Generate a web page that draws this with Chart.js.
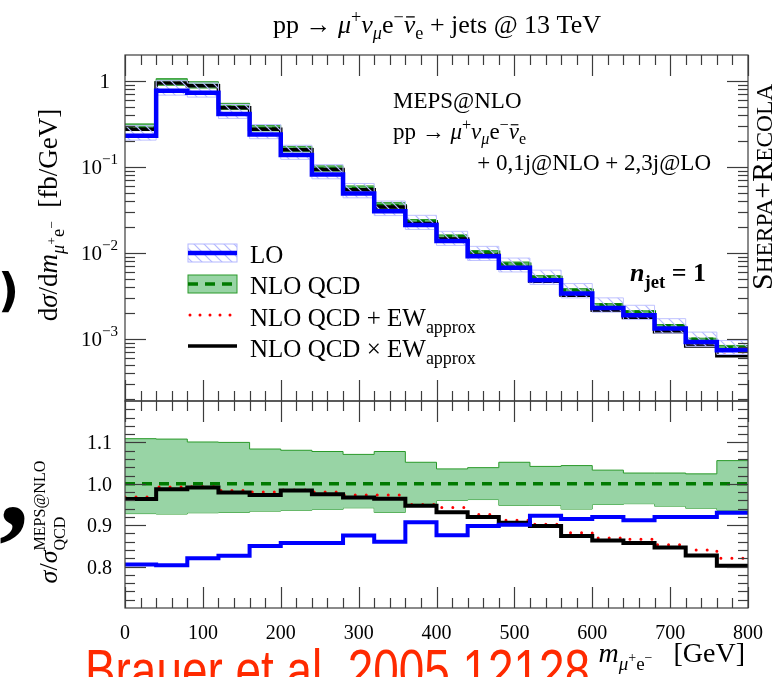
<!DOCTYPE html>
<html>
<head>
<meta charset="UTF-8">
<title>m(mu+ e-) MEPS@NLO</title>
<script src="https://cdn.jsdelivr.net/npm/chart.js"></script>
<style>
  body { margin: 0; background: #fff; }
  #wrap { position: relative; width: 774px; height: 677px; overflow: hidden; }
  #wrap canvas { position: absolute; left: 0; top: 0; }
</style>
</head>
<body>
<div id="wrap">
  <canvas id="mainChart" width="774" height="677"></canvas>
  <canvas id="ratioChart" width="774" height="677"></canvas>
</div>
<script>
// bin edges of m(mu+ e-) [GeV]
const binEdges = [0, 40, 80, 120, 160, 200, 240, 280, 320, 360, 400, 440, 480, 520, 560, 600, 640, 680, 720, 760, 800];

// upper panel: dsigma/dm [fb/GeV], one value per bin
const loXS       = [0.229, 0.765, 0.725, 0.41, 0.238, 0.137, 0.0815, 0.049, 0.0305, 0.021, 0.0137, 0.00916, 0.0067, 0.00482, 0.00337, 0.00229, 0.00189, 0.00132, 0.00092, 0.00074];
const loXSUp     = [0.30, 1.0, 0.94, 0.53, 0.31, 0.178, 0.106, 0.064, 0.040, 0.0273, 0.0178, 0.0119, 0.0087, 0.0063, 0.0044, 0.003, 0.00246, 0.00172, 0.0012, 0.00096];
const loXSDown   = [0.204, 0.68, 0.645, 0.365, 0.212, 0.122, 0.0725, 0.0436, 0.0271, 0.0187, 0.0122, 0.00815, 0.006, 0.0043, 0.003, 0.00204, 0.00168, 0.00117, 0.00082, 0.00066];
const nloXS      = [0.284, 0.953, 0.884, 0.496, 0.28, 0.16, 0.0951, 0.056, 0.0355, 0.0232, 0.0156, 0.0102, 0.00744, 0.00522, 0.00368, 0.00249, 0.00207, 0.00143, 0.001, 0.000796];
const nloXSUp    = [0.315, 1.056, 0.973, 0.546, 0.3035, 0.173, 0.1025, 0.06, 0.0383, 0.0244, 0.01616, 0.0106, 0.00783, 0.00544, 0.00384, 0.00257, 0.00212, 0.00147, 0.00102, 0.00084];
const nloXSDown  = [0.2636, 0.8834, 0.822, 0.4618, 0.2615, 0.1498, 0.0892, 0.0528, 0.033, 0.0221, 0.01498, 0.00981, 0.00705, 0.00495, 0.00346, 0.00237, 0.00197, 0.00135, 0.00094, 0.000745];
const nloPlusEW  = [0.2749, 0.9454, 0.8778, 0.488, 0.2744, 0.1576, 0.0932, 0.0545, 0.0345, 0.02204, 0.01471, 0.00945, 0.00679, 0.00471, 0.00325, 0.00216, 0.00179, 0.00122, 0.00084, 0.000653];
const nloTimesEW = [0.2735, 0.9406, 0.876, 0.4856, 0.2724, 0.1574, 0.0927, 0.0542, 0.0342, 0.02197, 0.01452, 0.00938, 0.00674, 0.00469, 0.00322, 0.00215, 0.00177, 0.00121, 0.000827, 0.000638];

// lower panel: ratio to MEPS@NLO QCD
const ratioLO      = [0.805, 0.803, 0.82, 0.826, 0.85, 0.857, 0.857, 0.875, 0.86, 0.907, 0.876, 0.898, 0.901, 0.923, 0.915, 0.92, 0.912, 0.92, 0.92, 0.93];
const ratioNLO     = [1, 1, 1, 1, 1, 1, 1, 1, 1, 1, 1, 1, 1, 1, 1, 1, 1, 1, 1, 1];
const ratioNLOUp   = [1.109, 1.108, 1.101, 1.1, 1.084, 1.081, 1.078, 1.071, 1.078, 1.052, 1.036, 1.039, 1.052, 1.042, 1.044, 1.033, 1.026, 1.026, 1.024, 1.056];
const ratioNLODown = [0.928, 0.927, 0.93, 0.931, 0.934, 0.936, 0.938, 0.942, 0.931, 0.952, 0.96, 0.962, 0.948, 0.948, 0.939, 0.95, 0.952, 0.946, 0.941, 0.936];
const ratioPlusEW  = [0.968, 0.992, 0.993, 0.984, 0.98, 0.985, 0.98, 0.973, 0.973, 0.95, 0.943, 0.926, 0.912, 0.902, 0.882, 0.869, 0.866, 0.853, 0.84, 0.82];
const ratioTimesEW = [0.963, 0.987, 0.991, 0.979, 0.973, 0.984, 0.975, 0.967, 0.964, 0.947, 0.931, 0.92, 0.906, 0.898, 0.874, 0.863, 0.857, 0.846, 0.827, 0.802];

// tick labels
const xTicks = [0, 100, 200, 300, 400, 500, 600, 700, 800];
const logTickExps = [0, -1, -2, -3];
const ratioTicks = [0.8, 0.9, 1.0, 1.1];

const SERIF = '"Liberation Serif", "DejaVu Serif", serif';
const GREEN_BAND = 'rgb(152, 212, 165)';
const GREEN_EDGE = '#2a9a2a';

function steps(vals) {
  return binEdges.map((x, i) => ({ x: x, y: vals[Math.min(i, vals.length - 1)] }));
}

function histo(vals, opts) {
  return Object.assign({
    data: steps(vals),
    stepped: 'before',
    pointRadius: 0,
    pointHoverRadius: 0,
    fill: false,
    borderJoinStyle: 'miter',
    tension: 0
  }, opts);
}

function makeHatch() {
  const c = document.createElement('canvas');
  c.width = 10; c.height = 10;
  const g = c.getContext('2d');
  g.strokeStyle = '#b3b7ff';
  g.lineWidth = 1.2;
  g.beginPath();
  g.moveTo(-1, -1); g.lineTo(11, 11);
  g.moveTo(-1, 9); g.lineTo(1, 11);
  g.moveTo(9, -1); g.lineTo(11, 1);
  g.stroke();
  return g.createPattern(c, 'repeat');
}
const hatch = makeHatch();

// text with sub/superscripts: parts = [{t, i, b, sc, dy, hold, bar}]
function rich(ctx, parts, x, y, size, align, family) {
  family = family || SERIF;
  const fontOf = p => (p.i ? 'italic ' : '') + (p.b ? 'bold ' : '') + (size * (p.sc || 1)).toFixed(1) + 'px ' + family;
  let w = 0, held = 0;
  parts.forEach(p => {
    ctx.font = fontOf(p);
    p.w = ctx.measureText(p.t).width;
    if (p.hold) { held = p.w; return; }
    w += Math.max(p.w, held); held = 0;
  });
  let cx = align === 'center' ? x - w / 2 : align === 'right' ? x - w : x;
  ctx.textAlign = 'left';
  ctx.textBaseline = 'alphabetic';
  held = 0;
  parts.forEach(p => {
    ctx.font = fontOf(p);
    const ty = y + (p.dy || 0) * size;
    ctx.fillText(p.t, cx, ty);
    if (p.bar) {
      const s = size * (p.sc || 1);
      ctx.save();
      ctx.lineWidth = Math.max(1, s * 0.05);
      ctx.strokeStyle = ctx.fillStyle;
      ctx.beginPath();
      ctx.moveTo(cx + p.w * 0.2, ty - s * 0.62);
      ctx.lineTo(cx + p.w * 0.95, ty - s * 0.62);
      ctx.stroke();
      ctx.restore();
    }
    if (p.hold) { held = p.w; return; }
    cx += Math.max(p.w, held); held = 0;
  });
}

function processParts() {
  return [
    { t: 'pp \u2192 ' }, { t: '\u03bc', i: 1 }, { t: '+', sc: 0.7, dy: -0.4 },
    { t: '\u03bd', i: 1 }, { t: '\u03bc', i: 1, sc: 0.7, dy: 0.22 },
    { t: 'e' }, { t: '\u2212', sc: 0.7, dy: -0.4 },
    { t: '\u03bd', i: 1, bar: 1 }, { t: 'e', sc: 0.7, dy: 0.22 }
  ];
}

function line(ctx, x1, y1, x2, y2) {
  ctx.beginPath(); ctx.moveTo(x1, y1); ctx.lineTo(x2, y2); ctx.stroke();
}

// frame with inward ticks on all four sides
function drawFrame(chart, yTickList) {
  const ctx = chart.ctx, a = chart.chartArea, xs = chart.scales.x, ys = chart.scales.y;
  ctx.save();
  ctx.strokeStyle = '#3c3c3c';
  ctx.lineWidth = 1.2;
  for (let v = 0; v <= 800; v += 20) {
    const px = Math.round(xs.getPixelForValue(v)) + 0.5, len = v % 100 === 0 ? 21 : 10;
    line(ctx, px, a.top, px, a.top + len);
    line(ctx, px, a.bottom, px, a.bottom - len);
  }
  yTickList.forEach(t => {
    const py = Math.round(ys.getPixelForValue(t.v)) + 0.5, len = t.major ? 21 : 10;
    line(ctx, a.left, py, a.left + len, py);
    line(ctx, a.right, py, a.right - len, py);
  });
  ctx.strokeRect(a.left, a.top, a.right - a.left, a.bottom - a.top);
  ctx.restore();
}

const logTickList = [];
for (let k = -4; k <= 0; k++) {
  for (let m = 1; m <= 9; m++) {
    const v = m * Math.pow(10, k);
    if (v > 1.9e-4 && v < 1.99) logTickList.push({ v: v, major: m === 1 });
  }
}
const ratioTickList = [];
for (let i = 36; i <= 59; i++) ratioTickList.push({ v: i / 50, major: i % 5 === 0 });

const mainDecor = {
  id: 'mainDecor',
  afterDraw(chart) {
    const ctx = chart.ctx, ys = chart.scales.y;
    drawFrame(chart, logTickList);
    ctx.save();
    ctx.fillStyle = '#000';

    // title
    rich(ctx, processParts().concat([{ t: ' + jets @ 13 TeV' }]), 437, 33, 26, 'center');

    // y tick labels
    logTickExps.forEach(k => {
      const py = ys.getPixelForValue(Math.pow(10, k)) + 7;
      if (k === 0) rich(ctx, [{ t: '1' }], 110, py, 21, 'right');
      else rich(ctx, [{ t: '10' }, { t: '\u2212' + (-k), sc: 0.72, dy: -0.45 }], 118, py, 21, 'right');
    });

    // y title
    ctx.save();
    ctx.translate(57, 215);
    ctx.rotate(-Math.PI / 2);
    rich(ctx, [
      { t: 'd' }, { t: '\u03c3', i: 1 }, { t: '/d' }, { t: 'm', i: 1 },
      { t: '\u03bc', i: 1, sc: 0.68, dy: 0.25 }, { t: '+', sc: 0.5, dy: -0.02 },
      { t: 'e', sc: 0.68, dy: 0.25 }, { t: '\u2212', sc: 0.5, dy: -0.02 },
      { t: '  [fb/GeV]' }
    ], 0, 0, 27, 'center');
    ctx.restore();

    // generator label
    ctx.save();
    ctx.translate(772, 290);
    ctx.rotate(-Math.PI / 2);
    rich(ctx, [
      { t: 'S' }, { t: 'HERPA', sc: 0.78 }, { t: '+' }, { t: 'R' }, { t: 'ECOLA', sc: 0.78 }
    ], 0, 0, 30, 'left');
    ctx.restore();

    // process annotation
    rich(ctx, [{ t: 'MEPS@NLO' }], 393, 108, 23, 'left');
    rich(ctx, processParts(), 393, 139, 23, 'left');
    rich(ctx, [{ t: '+ 0,1j@NLO + 2,3j@LO' }], 711, 170, 23, 'right');
    rich(ctx, [{ t: 'n', i: 1, b: 1 }, { t: 'jet', b: 1, sc: 0.72, dy: 0.25 }, { t: ' = 1', b: 1 }], 630, 281, 26, 'left');

    // legend
    const lx0 = 188, lw = 49, tx = 250;
    ctx.fillStyle = hatch;
    ctx.fillRect(lx0, 244, lw, 18);
    ctx.strokeStyle = '#b3b7ff'; ctx.lineWidth = 1;
    ctx.strokeRect(lx0, 244, lw, 18);
    ctx.strokeStyle = '#0000ff'; ctx.lineWidth = 4.5;
    line(ctx, lx0, 253, lx0 + lw, 253);

    ctx.fillStyle = GREEN_BAND;
    ctx.fillRect(lx0, 275, lw, 18);
    ctx.strokeStyle = GREEN_EDGE; ctx.lineWidth = 1;
    ctx.strokeRect(lx0, 275, lw, 18);
    ctx.strokeStyle = '#007a00'; ctx.lineWidth = 3.5; ctx.setLineDash([10, 7]);
    line(ctx, lx0, 284, lx0 + lw, 284);

    ctx.strokeStyle = '#ff0000'; ctx.lineWidth = 3; ctx.lineCap = 'round'; ctx.setLineDash([0, 10]);
    line(ctx, lx0 + 2, 315, lx0 + lw, 315);
    ctx.setLineDash([]); ctx.lineCap = 'butt';

    ctx.strokeStyle = '#000'; ctx.lineWidth = 3.5;
    line(ctx, lx0, 346, lx0 + lw, 346);

    ctx.fillStyle = '#000';
    const sub = { t: 'approx', sc: 0.72, dy: 0.28 };
    rich(ctx, [{ t: 'LO' }], tx, 263, 25, 'left');
    rich(ctx, [{ t: 'NLO QCD' }], tx, 294, 25, 'left');
    rich(ctx, [{ t: 'NLO QCD + EW' }, sub], tx, 326, 25, 'left');
    rich(ctx, [{ t: 'NLO QCD \u00d7 EW' }, sub], tx, 357, 25, 'left');

    // fragments of surrounding slide text at the left edge
    ctx.font = 'bold 46px "DejaVu Sans", sans-serif';
    ctx.fillText(')', -2, 306);
    ctx.font = 'bold 120px ' + SERIF;
    ctx.fillText(',', -1, 525);
    ctx.restore();
  }
};

const ratioDecor = {
  id: 'ratioDecor',
  afterDraw(chart) {
    const ctx = chart.ctx, ys = chart.scales.y, xs = chart.scales.x;
    drawFrame(chart, ratioTickList);
    ctx.save();
    ctx.fillStyle = '#000';
    ratioTicks.forEach(v => {
      rich(ctx, [{ t: v.toFixed(1) }], 112, ys.getPixelForValue(v) + 7, 20, 'right');
    });
    xTicks.forEach(v => {
      rich(ctx, [{ t: String(v) }], xs.getPixelForValue(v), 639, 20, 'center');
    });

    // ratio y title
    ctx.save();
    ctx.translate(57, 522);
    ctx.rotate(-Math.PI / 2);
    rich(ctx, [
      { t: '\u03c3', i: 1 }, { t: '/' }, { t: '\u03c3', i: 1 },
      { t: 'MEPS@NLO', sc: 0.62, dy: -0.45, hold: 1 }, { t: 'QCD', sc: 0.62, dy: 0.3 }
    ], 0, 0, 26, 'center');
    ctx.restore();

    // red reference note, cut by the bottom edge
    ctx.fillStyle = '#ff2a00';
    ctx.font = '58px "Liberation Sans Narrow", "Liberation Sans", sans-serif';
    const note = 'Brauer et al. 2005.12128';
    const nw = ctx.measureText(note).width;
    ctx.save();
    ctx.translate(85, 690);
    ctx.scale(505 / nw, 1);
    ctx.textAlign = 'left';
    ctx.fillText(note, 0, 0);
    ctx.restore();

    // x title
    ctx.fillStyle = '#000';
    rich(ctx, [
      { t: 'm', i: 1 }, { t: '\u03bc', i: 1, sc: 0.68, dy: 0.28 }, { t: '+', sc: 0.5, dy: 0.0 },
      { t: 'e', sc: 0.68, dy: 0.28 }, { t: '\u2212', sc: 0.5, dy: 0.0 }, { t: '   [GeV]' }
    ], 745, 662, 28, 'right');
    ctx.restore();
  }
};

const baseOptions = (ymin, ymax, ytype, padding) => ({
  responsive: false,
  animation: false,
  events: [],
  layout: { padding: padding },
  plugins: { legend: { display: false }, tooltip: { enabled: false }, title: { display: false } },
  scales: {
    x: { type: 'linear', min: 0, max: 800, display: false },
    y: { type: ytype, min: ymin, max: ymax, display: false }
  }
});

new Chart(document.getElementById('mainChart').getContext('2d'), {
  type: 'line',
  data: {
    datasets: [
      histo(nloXSDown, { label: 'NLO QCD down', borderColor: GREEN_EDGE, borderWidth: 1, order: 7 }),
      histo(nloXSUp, { label: 'NLO QCD up', borderColor: GREEN_EDGE, borderWidth: 1, fill: '-1', backgroundColor: 'rgb(95, 185, 105)', order: 6 }),
      histo(nloXS, { label: 'NLO QCD', borderColor: '#007a00', borderWidth: 3, borderDash: [8, 6], order: 5 }),
      histo(nloPlusEW, { label: 'NLO QCD + EW', borderColor: '#ff0000', borderWidth: 2.6, borderDash: [0, 9], borderCapStyle: 'round', order: 4 }),
      histo(nloTimesEW, { label: 'NLO QCD x EW', borderColor: '#000000', borderWidth: 3.5, order: 3 }),
      histo(loXSDown, { label: 'LO down', borderColor: '#c0c3ff', borderWidth: 1, order: 2.5 }),
      histo(loXSUp, { label: 'LO up', borderColor: '#c0c3ff', borderWidth: 1, fill: '-1', backgroundColor: hatch, order: 2 }),
      histo(loXS, { label: 'LO', borderColor: '#0000ff', borderWidth: 4.5, order: 1 })
    ]
  },
  options: baseOptions(1.9e-4, 1.99, 'logarithmic', { left: 125, right: 26, top: 55, bottom: 276 }),
  plugins: [mainDecor]
});

new Chart(document.getElementById('ratioChart').getContext('2d'), {
  type: 'line',
  data: {
    datasets: [
      histo(ratioNLODown, { label: 'band down', borderColor: GREEN_EDGE, borderWidth: 1, order: 7 }),
      histo(ratioNLOUp, { label: 'band up', borderColor: GREEN_EDGE, borderWidth: 1, fill: '-1', backgroundColor: GREEN_BAND, order: 6 }),
      histo(ratioNLO, { label: 'NLO QCD', borderColor: '#007a00', borderWidth: 3.5, borderDash: [10, 7], order: 5 }),
      histo(ratioPlusEW, { label: 'NLO QCD + EW', borderColor: '#ff0000', borderWidth: 3, borderDash: [0, 11], borderCapStyle: 'round', order: 4 }),
      histo(ratioTimesEW, { label: 'NLO QCD x EW', borderColor: '#000000', borderWidth: 4, order: 3 }),
      histo(ratioLO, { label: 'LO', borderColor: '#0000ff', borderWidth: 4, order: 1 })
    ]
  },
  options: baseOptions(0.7, 1.2, 'linear', { left: 125, right: 26, top: 401, bottom: 69 }),
  plugins: [ratioDecor]
});
</script>
</body>
</html>
